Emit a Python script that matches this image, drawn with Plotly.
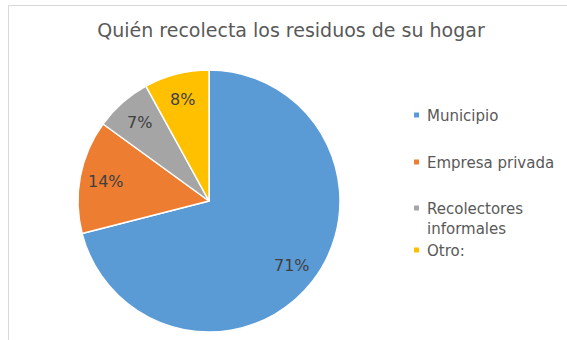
import math
import plotly.graph_objects as go

# Who collects household waste (share of responses, %)
categories = ["Municipio", "Empresa privada", "Recolectores informales", "Otro:"]
legend_labels = ["Municipio", "Empresa privada", "Recolectores<br>informales", "Otro:"]
shares = [71, 14, 7, 8]
colors = ["#5B9BD5", "#ED7D31", "#A5A5A5", "#FFC000"]

W, H = 567, 340
FONT = "DejaVu Sans, Liberation Sans, Arial, sans-serif"

def px_x(x):
    return x / W

def px_y(y):
    return 1 - y / H

# Pie placement (pixels)
CX, CY, R = 209, 201, 131

fig = go.Figure()
fig.add_trace(go.Pie(
    labels=categories,
    values=shares,
    sort=False,
    direction="clockwise",
    rotation=0,
    marker=dict(colors=colors, line=dict(color="white", width=1.5)),
    textinfo="none",
    hoverinfo="label+percent",
    showlegend=False,
    domain=dict(x=[px_x(CX - R), px_x(CX + R)], y=[px_y(CY + R), px_y(CY - R)]),
))

annotations = []
shapes = []

# Percentage labels placed near the outer end of each slice, at its mid-angle
total = sum(shares)
start = 0.0
for v in shares:
    sweep = 360.0 * v / total
    mid = math.radians(start + sweep / 2)
    start += sweep
    lx = CX + 0.80 * R * math.sin(mid)
    ly = CY - 0.80 * R * math.cos(mid)
    annotations.append(dict(
        text=f"{round(100 * v / total)}%", xref="paper", yref="paper",
        x=px_x(lx), y=px_y(ly), xanchor="center", yanchor="middle",
        showarrow=False,
        font=dict(family=FONT, size=16, color="#404040"),
    ))

# Legend drawn as square markers plus text entries
legend_rows = [115, 162, 208, 250]
for label, color, y in zip(legend_labels, colors, legend_rows):
    shapes.append(dict(
        type="rect", xref="paper", yref="paper",
        x0=px_x(414), x1=px_x(419), y0=px_y(y + 2.5), y1=px_y(y - 2.5),
        fillcolor=color, line=dict(width=0),
    ))
    annotations.append(dict(
        text=label, xref="paper", yref="paper",
        x=px_x(425), y=px_y(y - 10.5), xanchor="left", yanchor="top",
        align="left", showarrow=False,
        font=dict(family=FONT, size=15, color="#595959"),
    ))

# Chart-area border (left and top edges visible)
shapes.append(dict(
    type="rect", xref="paper", yref="paper",
    x0=px_x(8.5), x1=1.2, y0=-0.2, y1=px_y(5.5),
    line=dict(color="#D9D9D9", width=1), fillcolor="rgba(0,0,0,0)",
))

fig.update_layout(
    width=W, height=H,
    margin=dict(l=0, r=0, t=0, b=0),
    paper_bgcolor="white",
    plot_bgcolor="white",
    title=dict(
        text="Quién recolecta los residuos de su hogar",
        x=px_x(291), xanchor="center",
        y=px_y(30), yanchor="middle",
        font=dict(family=FONT, size=19, color="#595959"),
    ),
    shapes=shapes,
    annotations=annotations,
)

fig.write_html("out.html")
